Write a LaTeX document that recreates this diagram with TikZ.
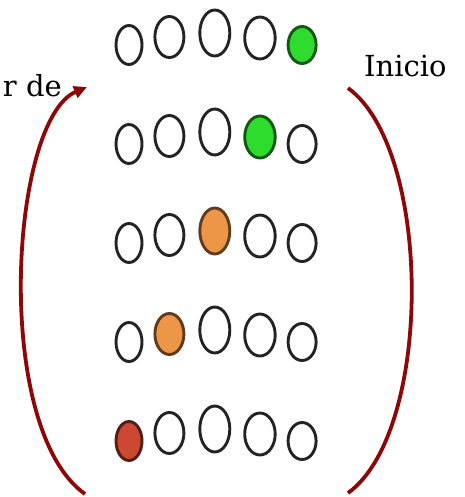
\documentclass[tikz,border=0pt]{standalone}
\usepackage{fontspec}
\setmainfont{DejaVu Serif}
\usepackage{xcolor}
\usepackage{tikz}
\usetikzlibrary{shapes.geometric, arrows.meta, positioning}
\definecolor{bracketred}{RGB}{140, 8, 8}
\definecolor{ledgreen}{RGB}{45, 220, 45}
\definecolor{ledorange}{RGB}{238, 150, 72}
\definecolor{ledred}{RGB}{205, 72, 50}
\definecolor{ledline}{RGB}{35, 35, 35}

\begin{document}
\begin{tikzpicture}[
        x=1pt, y=-1pt,
        bola/.style={ellipse, draw=ledline, line width=2.9pt, inner sep=0pt, fill=white},
        chica/.style={bola, minimum width=26pt, minimum height=39pt},
        media/.style={bola, minimum width=29pt, minimum height=41pt},
        grande/.style={bola, minimum width=30pt, minimum height=46pt},
        media4/.style={bola, minimum width=30.5pt, minimum height=42pt},
        chica5/.style={bola, minimum width=28pt, minimum height=37pt},
        verde/.style={fill=ledgreen, draw=ledgreen!40!black},
        naranja/.style={fill=ledorange, draw=ledorange!40!black},
        rojo/.style={fill=ledred, draw=ledred!40!black},
        texto/.style={font=\fontsize{29}{34}\selectfont, inner sep=0pt},
        corchete/.style={draw=bracketred, line width=3.8pt},
    ]
    \useasboundingbox (0,0) rectangle (464,497);

    % Fila 1
    \node[chica] (f1a) at (129,45) {};
    \node[media, right=10pt of f1a, yshift=8pt] (f1b) {};
    \node[grande, right=13pt of f1b, yshift=4pt] (f1c) {};
    \node[media4, right=12pt of f1c, yshift=-5pt] (f1d) {};
    \node[chica5, verde, right=10pt of f1d, yshift=-7pt] (f1e) {};

    % Fila 2
    \node[chica] (f2a) at (129,144) {};
    \node[media, right=10pt of f2a, yshift=8pt] (f2b) {};
    \node[grande, right=13pt of f2b, yshift=4pt] (f2c) {};
    \node[media4, verde, right=12pt of f2c, yshift=-5pt] (f2d) {};
    \node[chica5, right=10pt of f2d, yshift=-7pt] (f2e) {};

    % Fila 3
    \node[chica] (f3a) at (129,243) {};
    \node[media, right=10pt of f3a, yshift=8pt] (f3b) {};
    \node[grande, naranja, right=13pt of f3b, yshift=4pt] (f3c) {};
    \node[media4, right=12pt of f3c, yshift=-5pt] (f3d) {};
    \node[chica5, right=10pt of f3d, yshift=-7pt] (f3e) {};

    % Fila 4
    \node[chica] (f4a) at (129,342) {};
    \node[media, naranja, right=10pt of f4a, yshift=8pt] (f4b) {};
    \node[grande, right=13pt of f4b, yshift=4pt] (f4c) {};
    \node[media4, right=12pt of f4c, yshift=-5pt] (f4d) {};
    \node[chica5, right=10pt of f4d, yshift=-7pt] (f4e) {};

    % Fila 5
    \node[chica, rojo] (f5a) at (129,441) {};
    \node[media, right=10pt of f5a, yshift=8pt] (f5b) {};
    \node[grande, right=13pt of f5b, yshift=4pt] (f5c) {};
    \node[media4, right=12pt of f5c, yshift=-5pt] (f5d) {};
    \node[chica5, right=10pt of f5d, yshift=-7pt] (f5e) {};

    % Textos
    \node[texto, anchor=base west] (inicio) at (364,77) {Inicio};
    \node[texto, anchor=base east] (final) at (62,97) {r de};

    % Corchetes
    \coordinate (izqabajo) at (85,494);
    \coordinate (izqarriba) at (87,87);
    \coordinate (derarriba) at (348,88);
    \coordinate (derabajo) at (348,493);
    \draw[corchete, -{Triangle[length=13pt, width=12pt]}] (izqabajo) .. controls (-8,428) and (10,120) .. (izqarriba);
    \draw[corchete] (derarriba) .. controls (433,150) and (433,432) .. (derabajo);

\end{tikzpicture}
\end{document}
